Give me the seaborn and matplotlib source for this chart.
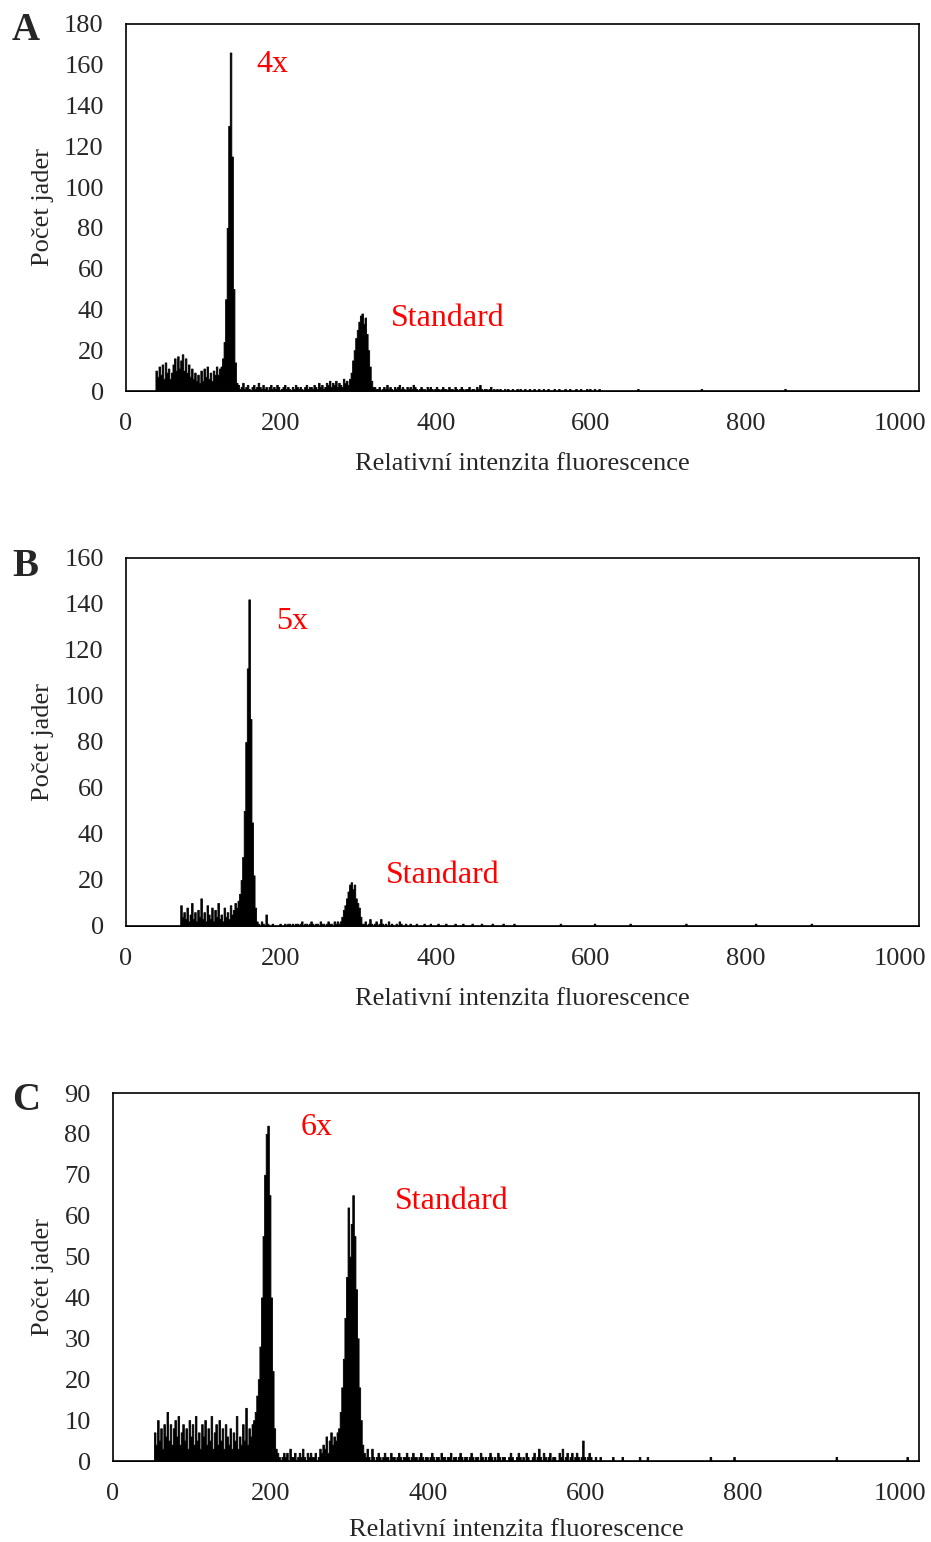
import numpy as np
import pandas as pd
import matplotlib
matplotlib.use("Agg")
import matplotlib.pyplot as plt
import seaborn as sns

sns.set_style("white")
plt.rcParams['font.family'] = ['Liberation Serif', 'DejaVu Serif']

# ---------------- data (channel -> count, 2-channel bins) ----------------
# Panel A (4x)
a_noise_start = 36
a_noise = [0, 10, 7, 12, 8, 13, 6, 14, 9, 11, 6, 9, 13, 16, 10, 17, 11, 15, 18, 10,
           16, 9, 13, 7, 11, 6, 9, 5, 8, 4, 10, 5, 11, 7, 12, 6, 9, 5, 10, 8, 12, 8, 11]
a_peak_start = 122
a_peak = [12, 16, 24, 45, 80, 130, 166, 115, 50, 14, 4]
a_mid_start = 144
a_mid = [3, 1, 2, 4, 1, 2, 3, 1, 0, 2, 3, 1, 2, 4, 2, 1, 3, 1, 2, 0, 2, 3, 1, 2, 1, 3, 2, 0,
         1, 2, 3, 1, 2, 1, 0, 2, 1, 3, 2, 1, 2, 1, 0, 2, 3, 1, 2, 2, 1, 3, 2, 1, 4, 2, 3, 1,
         2, 4, 3, 5, 2, 4, 3, 5, 2, 4, 3, 2, 6, 4, 5]
a_std_start = 286
a_std = [3, 6, 9, 15, 20, 26, 30, 34, 37, 38, 33, 36, 28, 20, 12, 5, 2]
a_tail_start = 320
a_tail = [2, 1, 1, 2, 0, 1, 2, 1, 3, 1, 2, 1, 0, 2, 1, 2, 3, 1, 2, 1,
          0, 2, 1, 2, 1, 3, 2, 1, 0, 1, 2, 1, 1, 0, 2, 1, 2, 1, 0, 1,
          2, 1, 0, 1, 2, 1, 1, 0, 2, 1, 1, 0, 2, 1, 0, 1, 2, 1, 0, 1,
          1, 2, 0, 1, 1, 0, 2, 1, 3, 1, 0, 1, 1, 0, 1, 2, 0, 1, 0, 1,
          0, 1, 0, 0, 1, 0, 1, 0, 0, 1, 0, 0, 1, 0, 1, 0, 0, 1, 0, 0,
          1, 0, 0, 1, 0, 0, 1, 0, 0, 1, 0, 0, 1, 0, 0, 0, 1, 0, 0, 1,
          0, 0, 0, 1, 0, 0, 1, 0, 0, 0, 1, 0, 0, 1, 0, 0, 0, 1, 0, 1,
          0, 0, 1, 0, 0, 1, 0, 0, 0, 0]
a_sparse_ch = [660, 742, 850]
a_sparse_n = [1, 1, 1]

# Panel B (5x)
b_noise_start = 68
b_noise = [0, 9, 4, 6, 3, 8, 2, 5, 10, 3, 6, 2, 7, 4, 12, 3, 6, 2, 9, 5,
           3, 8, 2, 7, 4, 10, 3, 5, 2, 8, 4, 6, 3, 9, 5, 7, 10]
b_peak_start = 142
b_peak = [8, 11, 14, 20, 30, 50, 80, 112, 142, 90, 45, 22, 8, 2]
b_mid_start = 170
b_mid = [1, 0, 2, 1, 0, 5, 1, 0, 0, 1, 0, 0, 0, 0, 1, 0, 0, 1, 0, 1, 1, 0, 1, 0, 1, 1, 0,
         1, 2, 0, 1, 1, 0, 1, 2, 1, 0, 1, 1, 0, 2, 1, 1, 0, 1, 2, 1, 1, 0, 2, 1, 2, 1, 2]
b_std_start = 278
b_std = [4, 7, 9, 12, 15, 18, 19, 16, 18, 12, 10, 8, 4, 1]
b_tail_start = 306
b_tail = [1, 2, 0, 1, 3, 1, 0, 1, 2, 0, 1, 3, 1, 0, 1, 0, 2, 0, 1, 0,
          0, 1, 0, 2, 1, 0, 0, 1, 0, 0, 1, 0, 0, 0, 1, 0, 0, 0, 0, 1,
          0, 0, 0, 1, 0, 0, 0, 0, 1, 0, 0, 0, 0, 1, 0, 0, 0, 0, 0, 1,
          0, 0, 0, 0, 1, 0, 0, 0, 0, 0, 1, 0, 0, 0, 0, 0, 1, 0, 0, 0,
          0, 0, 0, 1, 0, 0, 0, 0, 0, 0, 1, 0, 0, 0, 0, 0, 0, 1, 0, 0]
b_sparse_ch = [560, 604, 650, 722, 812, 884]
b_sparse_n = [1, 1, 1, 1, 1, 1]

# Panel C (6x)
c_noise_start = 52
c_noise = [7, 4, 10, 5, 8, 3, 9, 6, 12, 5, 9, 4, 8, 10, 6, 11, 4, 7, 9, 5,
           8, 3, 10, 6, 9, 4, 11, 5, 7, 3, 9, 6, 10, 4, 8, 5, 11, 3, 7, 9,
           4, 10, 5, 8, 3, 9, 6, 4, 8, 3, 7, 5, 11, 3, 6, 4, 9, 5, 13, 4, 8, 6, 9]
c_peak_start = 178
c_peak = [10, 12, 16, 20, 28, 40, 55, 70, 80, 82, 65, 40, 22, 8, 3]
c_mid_start = 208
c_mid = [2, 1, 0, 1, 2, 1, 2, 0, 3, 1, 1, 2, 0, 1, 2, 1, 3, 1, 0, 2, 1, 2, 1, 1, 2, 0,
         1, 3, 2, 4, 3, 6, 2, 5, 7, 4, 6, 5, 7]
c_std_start = 286
c_std = [8, 12, 18, 25, 35, 45, 62, 50, 58, 65, 55, 42, 30, 18, 10, 4, 2]
c_tail_start = 320
c_tail = [1, 3, 1, 0, 3, 1, 0, 1, 2, 1, 0, 1, 2, 1, 1, 0, 2, 1, 1, 0,
          1, 2, 1, 0, 1, 1, 2, 1, 0, 1, 2, 1, 1, 0, 1, 2, 1, 0, 1, 1,
          0, 1, 2, 1, 0, 1, 1, 0, 2, 1, 1, 0, 1, 1, 2, 0, 1, 1, 0, 1,
          2, 1, 0, 1, 1, 0, 1, 2, 1, 0, 1, 1, 0, 2, 1, 0, 1, 0, 1, 2,
          1, 0, 1, 0, 2, 1, 0, 1, 1, 0, 0, 1, 2, 1, 0, 0, 1, 2, 1, 0,
          1, 0, 2, 1, 0, 0, 1, 2, 0, 1, 3, 1, 0, 2, 1, 0, 1, 2, 0, 1,
          1, 0, 0, 2, 1, 3, 0, 1, 2, 0, 1, 2, 0, 1, 2, 1, 0, 1, 5, 1,
          0, 1, 2, 1, 0, 0, 1, 0, 0, 1]
c_sparse_ch = [634, 646, 668, 678, 758, 788, 918, 1008]
c_sparse_n = [1, 1, 1, 1, 1, 1, 1, 1]

x_ticks = [0, 200, 400, 600, 800, 1000]
a_yticks = list(range(0, 181, 20))
b_yticks = list(range(0, 161, 20))
c_yticks = list(range(0, 91, 10))

xlabel = "Relativní intenzita fluorescence"
ylabel = "Počet jader"


def build(segments, sparse_ch, sparse_n):
    ch, n = [], []
    for start, vals in segments:
        for i, v in enumerate(vals):
            ch.append(start + 2 * i + 1)
            n.append(v)
    for c, v in zip(sparse_ch, sparse_n):
        ch.append(c + 1)
        n.append(v)
    return pd.DataFrame({"channel": np.array(ch, dtype=float),
                         "nuclei": np.array(n, dtype=float)})


df_a = build([(a_noise_start, a_noise), (a_peak_start, a_peak), (a_mid_start, a_mid),
              (a_std_start, a_std), (a_tail_start, a_tail)], a_sparse_ch, a_sparse_n)
df_b = build([(b_noise_start, b_noise), (b_peak_start, b_peak), (b_mid_start, b_mid),
              (b_std_start, b_std), (b_tail_start, b_tail)], b_sparse_ch, b_sparse_n)
df_c = build([(c_noise_start, c_noise), (c_peak_start, c_peak), (c_mid_start, c_mid),
              (c_std_start, c_std), (c_tail_start, c_tail)], c_sparse_ch, c_sparse_n)

W, H = 931, 1542
fig = plt.figure(figsize=(W / 100, H / 100), dpi=100)


def make_ax(l, t, r, b):
    return fig.add_axes([l / W, 1 - b / H, (r - l) / W, (b - t) / H])


ax_a = make_ax(126, 24, 919, 391)
ax_b = make_ax(126, 558, 919, 926)
ax_c = make_ax(113, 1093, 919, 1461)

fs = 19
red_fs = 23

panels = [
    (ax_a, df_a, 180, a_yticks, "A", "4x", (168, 160), (342, 35.5), 31, -0.169),
    (ax_b, df_b, 160, b_yticks, "B", "5x", (194, 132.5), (336, 22), 567, -0.169),
    (ax_c, df_c, 90, c_yticks, "C", "6x", (239, 81.5), (358, 63.5), 1101, -0.157),
]

for ax, df, ymax, yt, letter, lab, lab_xy, std_xy, ly, xl_y in panels:
    sns.histplot(data=df, x="channel", weights="nuclei", binwidth=2, binrange=(0, 1024),
                 element="step", fill=True, color="black", alpha=1, linewidth=0.6, ax=ax)
    ax.set_xlim(0, 1024)
    ax.set_ylim(0, ymax)
    ax.set_xticks(x_ticks)
    ax.set_yticks(yt)
    ax.tick_params(axis="both", length=0, labelsize=fs)
    ax.tick_params(axis="x", pad=16)
    ax.tick_params(axis="y", pad=16)
    for s in ax.spines.values():
        s.set_visible(True)
        s.set_color("black")
        s.set_linewidth(1.2)
    ax.set_xlabel(xlabel, fontsize=fs)
    ax.set_ylabel(ylabel, fontsize=fs)
    ax.xaxis.set_label_coords(0.5, xl_y)
    ax.text(lab_xy[0], lab_xy[1], lab, color="red", fontsize=red_fs, ha="left", va="center")
    ax.text(std_xy[0], std_xy[1], "Standard", color="red", fontsize=red_fs, ha="left", va="center")
    fig.text(12 / W, 1 - ly / H, letter, fontsize=28, fontweight="bold", ha="left", va="center")

ax_a.yaxis.set_label_coords(-72 / 793, 0.5)
ax_b.yaxis.set_label_coords(-72 / 793, 0.5)
ax_c.yaxis.set_label_coords(-59 / 806, 0.5)

fig.savefig("out.png", dpi=100)
